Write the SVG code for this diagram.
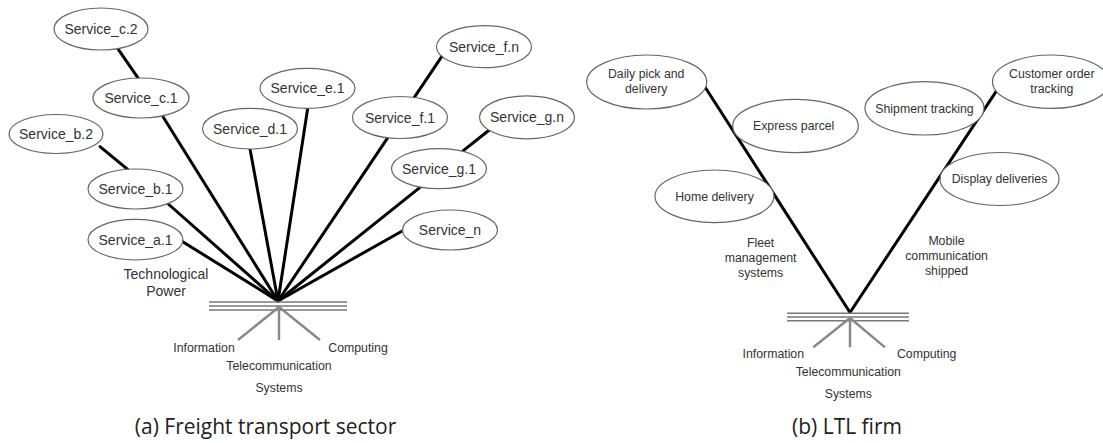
<svg xmlns="http://www.w3.org/2000/svg" width="1103" height="443" viewBox="0 0 1103 443">
<style>
.node ellipse{fill:#fff;stroke:#666;stroke-width:1.2}
.svc{font-family:"Liberation Sans",Arial,sans-serif;font-size:14px;fill:#333;text-anchor:middle}
.lbl{font-family:"Liberation Sans",Arial,sans-serif;font-size:12.3px;fill:#333;text-anchor:middle}
.cap{font-family:"Open Sans","Liberation Sans",sans-serif;font-size:21px;fill:#222;text-anchor:middle}
.edge{stroke:#000;stroke-width:3;fill:none;stroke-linecap:round}
.base{stroke:#777;stroke-width:1.6;fill:none}
.spoke{stroke:#888;stroke-width:2.4;fill:none}
</style>
<rect width="1103" height="443" fill="#fff"/>
<g id="connectors">
<line class="edge" x1="118.3" y1="49.3" x2="138.3" y2="78.3"/>
<line class="edge" x1="100" y1="146.7" x2="127.7" y2="169.3"/>
<line class="edge" x1="441.7" y1="56.7" x2="414.3" y2="97.3"/>
<line class="edge" x1="489.3" y1="130" x2="463.3" y2="150.7"/>
<line class="edge" x1="163.3" y1="117.3" x2="278" y2="301"/>
<line class="edge" x1="250" y1="149" x2="278" y2="301"/>
<line class="edge" x1="307.7" y1="108.3" x2="278" y2="301"/>
<line class="edge" x1="387.3" y1="138.3" x2="278" y2="301"/>
<line class="edge" x1="420" y1="187.3" x2="278" y2="301"/>
<line class="edge" x1="402.7" y1="230.7" x2="278" y2="301"/>
<line class="edge" x1="168.3" y1="204" x2="278" y2="301"/>
<line class="edge" x1="182.7" y1="241.7" x2="278" y2="301"/>
<line class="edge" x1="705" y1="87" x2="850" y2="312.5"/>
<line class="edge" x1="996" y1="91.7" x2="850" y2="312.5"/>
</g>
<g id="base-a">
<line class="base" x1="209" y1="302" x2="347" y2="302"/>
<line class="base" x1="209" y1="306" x2="347" y2="306"/>
<line class="base" x1="209" y1="310" x2="347" y2="310"/>
<line class="spoke" x1="279" y1="307" x2="238" y2="340"/>
<line class="spoke" x1="279" y1="307" x2="279" y2="340"/>
<line class="spoke" x1="279" y1="307" x2="320" y2="340"/>
<text class="lbl" x="204" y="352">Information</text>
<text class="lbl" x="279" y="370">Telecommunication</text>
<text class="lbl" x="358" y="352">Computing</text>
<text class="lbl" x="279" y="392">Systems</text>
<text class="lbl" x="166" y="279" style="font-size:14px">Technological</text>
<text class="lbl" x="166" y="296" style="font-size:14px">Power</text>
</g>
<g id="base-b">
<line class="base" x1="787" y1="313.3" x2="909" y2="313.3"/>
<line class="base" x1="787" y1="317" x2="909" y2="317"/>
<line class="base" x1="787" y1="320.7" x2="909" y2="320.7"/>
<line class="spoke" x1="850" y1="318" x2="813.3" y2="347.3"/>
<line class="spoke" x1="850" y1="318" x2="850" y2="347.3"/>
<line class="spoke" x1="850" y1="318" x2="885" y2="347.3"/>
<text class="lbl" x="773.3" y="358">Information</text>
<text class="lbl" x="848.3" y="375.5">Telecommunication</text>
<text class="lbl" x="926.7" y="358">Computing</text>
<text class="lbl" x="848.3" y="397.5">Systems</text>
<text class="lbl" x="760.6" y="247">Fleet</text>
<text class="lbl" x="760.6" y="262">management</text>
<text class="lbl" x="760.6" y="277">systems</text>
<text class="lbl" x="946.5" y="245">Mobile</text>
<text class="lbl" x="946.5" y="260">communication</text>
<text class="lbl" x="946.5" y="275">shipped</text>
</g>
<g id="svc-c2" class="node"><ellipse cx="101" cy="29" rx="47" ry="21"/><text class="svc" x="101" y="34">Service_c.2</text></g>
<g id="svc-c1" class="node"><ellipse cx="141" cy="98" rx="48" ry="20"/><text class="svc" x="141" y="103">Service_c.1</text></g>
<g id="svc-b2" class="node"><ellipse cx="56" cy="134" rx="47" ry="19.5"/><text class="svc" x="56" y="139">Service_b.2</text></g>
<g id="svc-b1" class="node"><ellipse cx="135.5" cy="189" rx="47.5" ry="20"/><text class="svc" x="135.5" y="194">Service_b.1</text></g>
<g id="svc-a1" class="node"><ellipse cx="135.5" cy="239.7" rx="47.5" ry="20.3"/><text class="svc" x="135.5" y="244.7">Service_a.1</text></g>
<g id="svc-d1" class="node"><ellipse cx="250" cy="128.7" rx="47.5" ry="20.3"/><text class="svc" x="250" y="133.7">Service_d.1</text></g>
<g id="svc-e1" class="node"><ellipse cx="307.5" cy="88.3" rx="47.5" ry="20"/><text class="svc" x="307.5" y="93.3">Service_e.1</text></g>
<g id="svc-fn" class="node"><ellipse cx="484" cy="46.7" rx="47.5" ry="21"/><text class="svc" x="484" y="51.7">Service_f.n</text></g>
<g id="svc-f1" class="node"><ellipse cx="400" cy="117.5" rx="47.5" ry="21"/><text class="svc" x="400" y="122.5">Service_f.1</text></g>
<g id="svc-gn" class="node"><ellipse cx="527" cy="117.3" rx="47.5" ry="21.5"/><text class="svc" x="527" y="122.3">Service_g.n</text></g>
<g id="svc-g1" class="node"><ellipse cx="439" cy="168.7" rx="47.5" ry="20"/><text class="svc" x="439" y="173.7">Service_g.1</text></g>
<g id="svc-n" class="node"><ellipse cx="450" cy="230" rx="47.5" ry="20"/><text class="svc" x="450" y="235">Service_n</text></g>
<g id="daily" class="node"><ellipse cx="646.7" cy="82" rx="60" ry="27"/><text class="lbl" x="646.2" y="78">Daily pick and</text><text class="lbl" x="646.2" y="93">delivery</text></g>
<g id="express" class="node"><ellipse cx="795.5" cy="126" rx="62.8" ry="26.7"/><text class="lbl" x="793.7" y="130.3">Express parcel</text></g>
<g id="home" class="node"><ellipse cx="714.5" cy="196.3" rx="59.5" ry="26.3"/><text class="lbl" x="714.5" y="200.8">Home delivery</text></g>
<g id="shipment" class="node"><ellipse cx="924.5" cy="108.3" rx="59.5" ry="26.7"/><text class="lbl" x="924.5" y="112.6">Shipment tracking</text></g>
<g id="customer" class="node"><ellipse cx="1051" cy="81.7" rx="58.5" ry="26.7"/><text class="lbl" x="1051.8" y="77.5">Customer order</text><text class="lbl" x="1051.8" y="92.5">tracking</text></g>
<g id="display" class="node"><ellipse cx="999.5" cy="179" rx="59.5" ry="26.5"/><text class="lbl" x="999.5" y="183.3">Display deliveries</text></g>
<text class="cap" x="265.5" y="434">(a) Freight transport sector</text>
<text class="cap" x="847" y="434">(b) LTL firm</text>
</svg>
